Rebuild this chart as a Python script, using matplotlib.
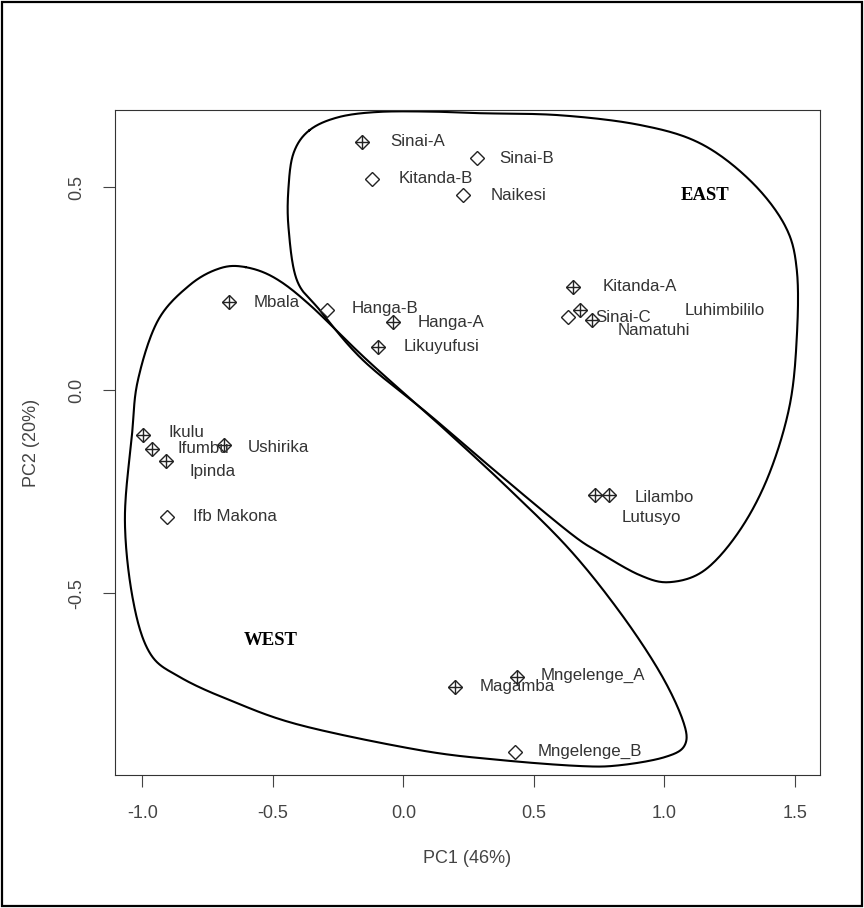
import matplotlib.pyplot as plt
import numpy as np
from matplotlib.patches import Rectangle

# PCA scores
sites = ["Sinai-A", "Sinai-B", "Kitanda-B", "Naikesi", "Kitanda-A", "Sinai-C",
         "Luhimbililo", "Namatuhi", "Mbala", "Hanga-B", "Hanga-A", "Likuyufusi",
         "Ikulu", "Ifumbu", "Ipinda", "Ushirika", "Ifb Makona", "Lilambo",
         "Lutusyo", "Magamba", "Mngelenge_A", "Mngelenge_B"]
pc1 = [-0.159, 0.281, -0.121, 0.230, 0.651, 0.632,
       0.677, 0.722, -0.670, -0.293, -0.041, -0.096,
       -0.996, -0.962, -0.910, -0.687, -0.907, 0.788,
       0.734, 0.198, 0.436, 0.428]
pc2 = [0.612, 0.571, 0.521, 0.480, 0.254, 0.181,
       0.197, 0.172, 0.217, 0.197, 0.168, 0.107,
       -0.111, -0.146, -0.174, -0.135, -0.312, -0.259,
       -0.259, -0.731, -0.707, -0.891]
# True -> diamond with plus, False -> open diamond
plus = [True, False, False, False, True, False,
        True, True, True, False, True, True,
        True, True, True, True, False, True,
        True, True, True, False]
# label offsets in pixels (right, down) from the point
lab_dx = [28, 23, 27, 27, 29, 27, 105, 26, 25, 25, 25, 25,
          25, 25, 24, 24, 26, 26, 27, 25, 24, 23]
lab_dy = [0, 0, 0, 0, 0, 1, 0, 10, 1, -2, 1, 0,
          -3, -1, 11, 3, 0, 2, 22, 0, -2, 0]

# outlines of the two groups
east_x = [-0.360, -0.250, -0.100, 0.100, 0.294, 0.600, 0.907, 1.137, 1.328, 1.462,
          1.508, 1.508, 1.480, 1.400, 1.290, 1.156, 1.022, 0.907, 0.754, 0.639,
          0.370, 0.102, -0.155, -0.320, -0.408, -0.440, -0.440, -0.420]
east_y = [0.640, 0.672, 0.685, 0.686, 0.682, 0.677, 0.653, 0.608, 0.517, 0.406,
          0.296, 0.130, -0.040, -0.210, -0.345, -0.443, -0.473, -0.456, -0.401, -0.352,
          -0.209, -0.062, 0.074, 0.197, 0.271, 0.400, 0.500, 0.585]
west_x = [-0.606, -0.492, -0.357, -0.139, 0.140, 0.409, 0.639, 0.830, 0.983, 1.071,
          1.079, 1.002, 0.830, 0.677, 0.370, 0.064, -0.396, -0.664, -0.856, -0.971,
          -1.036, -1.067, -1.040, -1.017, -0.940, -0.818, -0.703]
west_y = [0.303, 0.276, 0.209, 0.074, -0.086, -0.246, -0.394, -0.547, -0.695, -0.813,
          -0.874, -0.904, -0.924, -0.926, -0.911, -0.887, -0.825, -0.764, -0.707, -0.648,
          -0.517, -0.320, -0.111, 0.025, 0.172, 0.259, 0.300]


def closed_spline(xs, ys, n=24):
    # closed Catmull-Rom through the outline points
    p = np.column_stack([xs, ys])
    m = len(p)
    out = []
    t = np.linspace(0, 1, n, endpoint=False)[:, None]
    for i in range(m):
        p0, p1, p2, p3 = p[i - 1], p[i], p[(i + 1) % m], p[(i + 2) % m]
        seg = 0.5 * (2 * p1 + (-p0 + p2) * t
                     + (2 * p0 - 5 * p1 + 4 * p2 - p3) * t ** 2
                     + (-p0 + 3 * p1 - 3 * p2 + p3) * t ** 3)
        out.append(seg)
    out = np.vstack(out + [out[0][:1]])
    return out[:, 0], out[:, 1]


plt.rcParams["font.family"] = ["Liberation Sans", "DejaVu Sans"]
fig = plt.figure(figsize=(8.64, 9.08), dpi=100)
ax = fig.add_axes([0.1331, 0.1465, 0.8160, 0.7324])

for xs, ys in [(east_x, east_y), (west_x, west_y)]:
    sx, sy = closed_spline(xs, ys)
    ax.plot(sx, sy, color="black", lw=1.5, zorder=2)

for i, name in enumerate(sites):
    ax.plot(pc1[i], pc2[i], marker="D", ms=7.4, mfc="white", mec="#222222",
            mew=1.0, ls="none", zorder=3)
    if plus[i]:
        ax.plot(pc1[i], pc2[i], marker="+", ms=10.4, mec="#222222", mew=1.0,
                ls="none", zorder=4)
    ax.annotate(name, (pc1[i], pc2[i]), xytext=(lab_dx[i] * 0.72, -lab_dy[i] * 0.72),
                textcoords="offset points", ha="left", va="center",
                fontsize=12.2, color="#333333", zorder=5)

ax.text(1.158, 0.480, "EAST", family="Liberation Serif", weight="bold",
        fontsize=13.5, ha="center", va="center")
ax.text(-0.507, -0.618, "WEST", family="Liberation Serif", weight="bold",
        fontsize=13.5, ha="center", va="center")

ax.set_xlim(-1.105, 1.597)
ax.set_ylim(-0.948, 0.690)
ax.set_xticks([-1.0, -0.5, 0.0, 0.5, 1.0, 1.5])
ax.set_xticklabels(["-1.0", "-0.5", "0.0", "0.5", "1.0", "1.5"])
ax.set_yticks([-0.5, 0.0, 0.5])
ax.set_yticklabels(["-0.5", "0.0", "0.5"], rotation=90, va="center")
ax.tick_params(direction="out", length=8.5, width=0.8, color="#444444",
               labelsize=13, labelcolor="#444444", pad=13)
for sp in ax.spines.values():
    sp.set_linewidth(0.8)
    sp.set_color("#333333")

ax.set_xlabel("PC1 (46%)", fontsize=13, color="#444444", labelpad=20)
ax.set_ylabel("PC2 (20%)", fontsize=13, color="#444444", labelpad=20)

# frame around the whole figure
fig.patches.append(Rectangle((0.002, 0.002), 0.996, 0.996, transform=fig.transFigure,
                             fill=False, edgecolor="black", lw=1.6))

fig.savefig("out.png", dpi=100)
